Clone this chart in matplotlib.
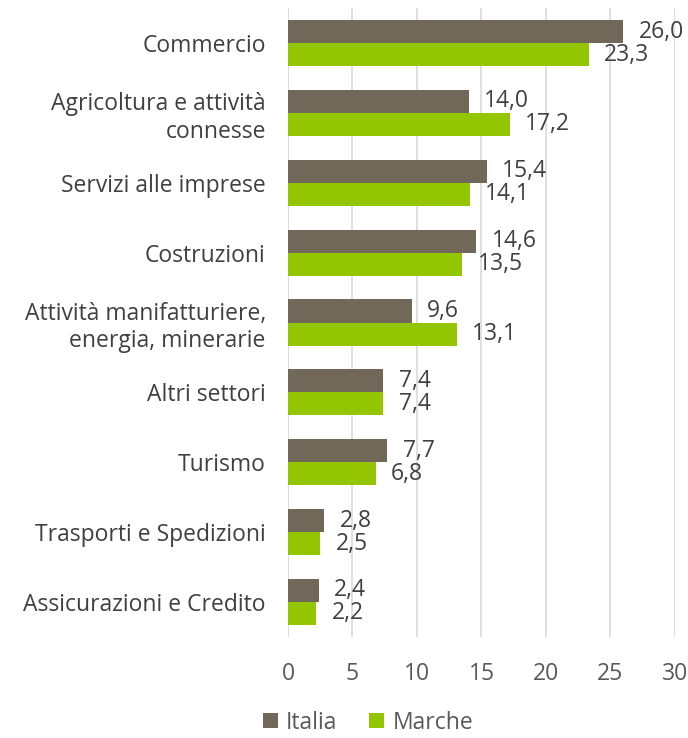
import numpy as np
import matplotlib.pyplot as plt

plt.rcParams['font.family'] = ['Open Sans', 'DejaVu Sans']

categories = ['Commercio', 'Agricoltura e attività\nconnesse', 'Servizi alle imprese',
              'Costruzioni', 'Attività manifatturiere,\nenergia, minerarie', 'Altri settori',
              'Turismo', 'Trasporti e Spedizioni', 'Assicurazioni e Credito']
italia = [26.0, 14.0, 15.4, 14.6, 9.6, 7.4, 7.7, 2.8, 2.4]
marche = [23.3, 17.2, 14.1, 13.5, 13.1, 7.4, 6.8, 2.5, 2.2]

c_ita = '#726859'
c_mar = '#93c500'
fs = 16.5

fig = plt.figure(figsize=(6.88, 7.38), dpi=100)
ax = fig.add_axes([0.4186, 0.137, 0.5625, 0.852])

y = np.arange(len(categories))
h = 0.33
ax.barh(y - h / 2, italia, height=h, color=c_ita, label='Italia', zorder=3)
ax.barh(y + h / 2, marche, height=h, color=c_mar, label='Marche', zorder=3)

for yi, v in zip(y, italia):
    ax.annotate(f'{v:.1f}'.replace('.', ','), (v, yi - h / 2), xytext=(11, 0),
                textcoords='offset points', va='center', ha='left',
                fontsize=fs, color='#404040')
for yi, v in zip(y, marche):
    ax.annotate(f'{v:.1f}'.replace('.', ','), (v, yi + h / 2), xytext=(11, 0),
                textcoords='offset points', va='center', ha='left',
                fontsize=fs, color='#404040')

ax.set_ylim(len(categories) - 0.5, -0.5)
ax.set_xlim(0, 30)
ax.set_xticks(range(0, 31, 5))
ax.set_yticks(y)
ax.set_yticklabels(categories, fontsize=fs, color='#404040', linespacing=1.2)
ax.tick_params(axis='x', labelsize=fs, labelcolor='#595959', length=0, pad=18)
ax.tick_params(axis='y', length=0, pad=16)
ax.grid(axis='x', color='#d9d9d9', linewidth=1.2, zorder=0)
for s in ax.spines.values():
    s.set_visible(False)
ax.axvline(0, color='#d9d9d9', linewidth=1.2, zorder=1)

fig.legend(loc='center', bbox_to_anchor=(0.535, 0.021), ncol=2, frameon=False,
           fontsize=fs, handlelength=0.65, handleheight=0.65, handletextpad=0.35,
           columnspacing=1.4, labelcolor='#595959', borderpad=0.1)

fig.savefig('out.png', dpi=100)
